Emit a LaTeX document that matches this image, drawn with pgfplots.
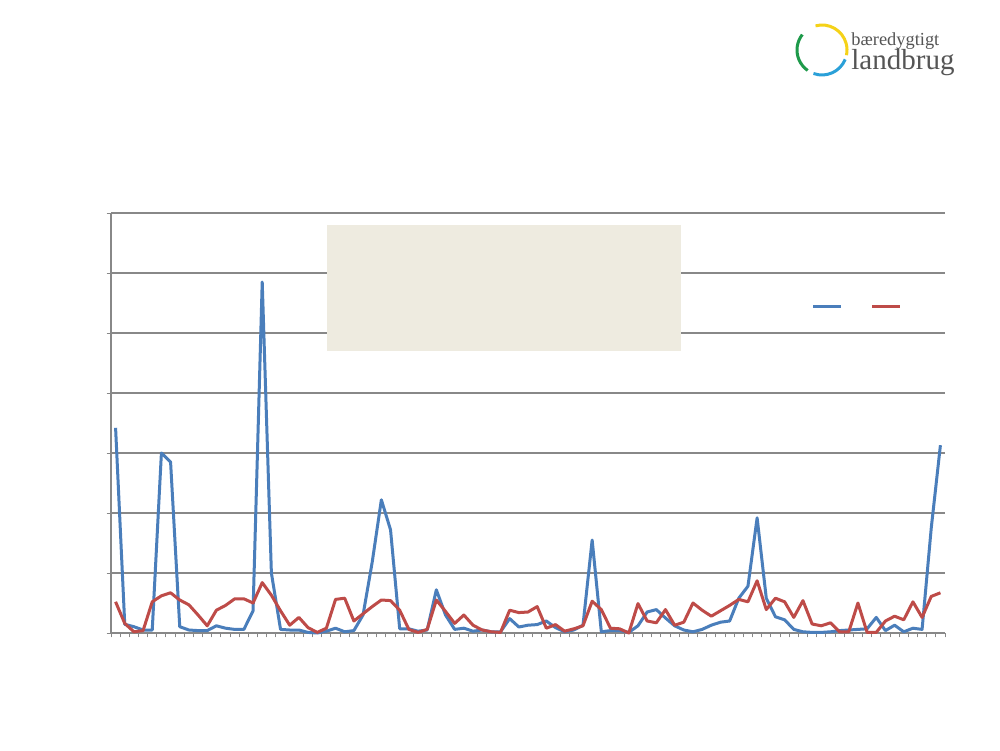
\documentclass[border=0pt]{standalone}
\usepackage{pgfplots}
\pgfplotsset{compat=1.18}
\usepackage{fontspec}
\setmainfont{Liberation Serif}
\definecolor{xblue}{HTML}{4A7EBB}
\definecolor{xred}{HTML}{BE4B48}
\definecolor{gridgray}{HTML}{888888}
\definecolor{beige}{HTML}{EEEBE0}
\definecolor{logoyellow}{HTML}{F5D218}
\definecolor{logogreen}{HTML}{1E9A4A}
\definecolor{logoblue}{HTML}{2AA0D8}
\definecolor{logotext}{HTML}{555555}
\begin{document}
\begin{tikzpicture}
\useasboundingbox (0,0) rectangle (500pt,375pt);
\fill[white] (0,0) rectangle (500pt,375pt);
\begin{axis}[
  at={(55.5pt,58.5pt)}, anchor=south west,
  scale only axis, width=417pt, height=210pt,
  xmin=-0.5, xmax=90.5, ymin=0, ymax=7,
  axis x line*=bottom, axis y line*=left,
  axis line style={-, draw=gridgray, line width=0.55pt},
  xtick={-0.5,0.5,...,90.5}, ytick={0,1,...,7},
  xticklabels={}, yticklabels={},
  tick align=outside, major tick length=2.2pt,
  tick style={draw=gridgray, line width=0.5pt},
  ymajorgrids, grid style={draw=gridgray, line width=0.55pt},
  clip=false,
  legend columns=2,
  legend style={at={(0.8405,0.7786)}, anchor=west, draw=none, fill=none,
    inner sep=0pt, outer sep=0pt, nodes={inner sep=0pt, outer sep=0pt},
    /tikz/every even column/.append style={column sep=0pt}},
  legend image code/.code={\draw[#1] (0pt,0pt) -- (14pt,0pt);},
]
\addplot[xblue, line width=1.5pt, line join=round] coordinates {
(0,3.42)(1,0.145)(2,0.105)(3,0.05)(4,0.05)(5,3.0)(6,2.85)(7,0.105)(8,0.05)(9,0.04)
(10,0.04)(11,0.12)(12,0.08)(13,0.06)(14,0.06)(15,0.37)(16,5.85)(17,1.0)(18,0.06)(19,0.05)
(20,0.05)(21,0.01)(22,0)(23,0.03)(24,0.08)(25,0.02)(26,0.04)(27,0.3)(28,1.18)(29,2.22)
(30,1.72)(31,0.07)(32,0.07)(33,0.03)(34,0.05)(35,0.72)(36,0.3)(37,0.06)(38,0.08)(39,0.03)
(40,0.05)(41,0.02)(42,0.02)(43,0.24)(44,0.1)(45,0.13)(46,0.14)(47,0.2)(48,0.09)(49,0.02)
(50,0.05)(51,0.13)(52,1.55)(53,0.02)(54,0.04)(55,0.04)(56,0.01)(57,0.12)(58,0.35)(59,0.39)
(60,0.25)(61,0.12)(62,0.05)(63,0.02)(64,0.06)(65,0.13)(66,0.18)(67,0.2)(68,0.58)(69,0.78)
(70,1.92)(71,0.58)(72,0.27)(73,0.22)(74,0.06)(75,0.02)(76,0.01)(77,0.01)(78,0.02)(79,0.04)
(80,0.05)(81,0.06)(82,0.07)(83,0.26)(84,0.04)(85,0.13)(86,0.02)(87,0.08)(88,0.06)(89,1.75)
(90,3.13)};
\addlegendentry{\rule{14pt}{0pt}}
\addplot[xred, line width=1.5pt, line join=round] coordinates {
(0,0.52)(1,0.16)(2,0.02)(3,0.04)(4,0.52)(5,0.62)(6,0.67)(7,0.55)(8,0.47)(9,0.3)
(10,0.12)(11,0.38)(12,0.46)(13,0.57)(14,0.57)(15,0.5)(16,0.84)(17,0.63)(18,0.37)(19,0.13)
(20,0.26)(21,0.09)(22,0.01)(23,0.08)(24,0.56)(25,0.58)(26,0.2)(27,0.32)(28,0.44)(29,0.55)
(30,0.54)(31,0.38)(32,0.06)(33,0.01)(34,0.06)(35,0.55)(36,0.36)(37,0.16)(38,0.3)(39,0.13)
(40,0.05)(41,0.02)(42,0.01)(43,0.38)(44,0.34)(45,0.35)(46,0.44)(47,0.08)(48,0.14)(49,0.03)
(50,0.07)(51,0.12)(52,0.53)(53,0.39)(54,0.08)(55,0.07)(56,0)(57,0.49)(58,0.2)(59,0.17)
(60,0.39)(61,0.13)(62,0.18)(63,0.5)(64,0.38)(65,0.28)(66,0.37)(67,0.46)(68,0.56)(69,0.52)
(70,0.87)(71,0.39)(72,0.58)(73,0.52)(74,0.26)(75,0.54)(76,0.15)(77,0.12)(78,0.17)(79,0.02)
(80,0.02)(81,0.5)(82,0.01)(83,0.01)(84,0.2)(85,0.28)(86,0.22)(87,0.52)(88,0.26)(89,0.61)
(90,0.67)};
\addlegendentry{\rule{14pt}{0pt}}
\end{axis}
% empty title box
\fill[beige] (163.5pt,199.5pt) rectangle (340.5pt,262.5pt);
% logo
\begin{scope}[line width=1.5pt]
\draw[logoyellow] (411pt,350pt) ++(105:12.5pt) arc[start angle=105, end angle=-12, radius=12.5pt];
\draw[logogreen] (411pt,350pt) ++(142:12.5pt) arc[start angle=142, end angle=235, radius=12.5pt];
\draw[logoblue] (411pt,350pt) ++(250:12.5pt) arc[start angle=250, end angle=338, radius=12.5pt];
\end{scope}
\node[anchor=base west, inner sep=0pt, text=logotext, font=\fontsize{9.2pt}{10pt}\selectfont] at (425.5pt,352pt) {bæredygtigt};
\node[anchor=base west, inner sep=0pt, text=logotext, font=\fontsize{14.5pt}{16pt}\selectfont] at (425.5pt,340pt) {landbrug};
\end{tikzpicture}
\end{document}
